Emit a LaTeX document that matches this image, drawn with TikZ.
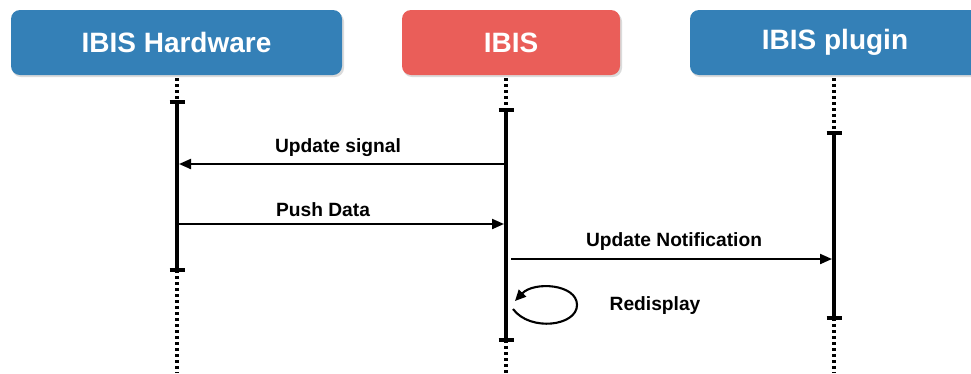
\documentclass[tikz,border=0pt]{standalone}
\usepackage{fontspec}
\setmainfont{Liberation Sans}
\usetikzlibrary{arrows.meta}
\definecolor{hwblue}{RGB}{52,128,183}
\definecolor{ibisred}{RGB}{234,94,89}
\tikzset{
  actor/.style={rounded corners=9pt, minimum height=65pt, inner sep=0pt,
    text=white, font=\fontsize{28}{30}\selectfont\bfseries},
  shade/.style={fill=black!14, rounded corners=9pt},
  life/.style={line width=3.6pt},
  idle/.style={line width=3.2pt, dash pattern=on 3pt off 3pt},
  endbar/.style={line width=3.2pt},
  msg/.style={line width=2.1pt, -{Triangle[length=12pt,width=10pt]}},
  lbl/.style={font=\fontsize{19.2}{22}\selectfont\bfseries, inner sep=0pt}
}
\begin{document}
\begin{tikzpicture}[x=1pt,y=-1pt]
\useasboundingbox (0,0) rectangle (971,373);
\begin{scope}
\clip (0,0) rectangle (971,373);
% soft shadows under the actor boxes
\fill[shade] (12,12.5) rectangle (344,77);
\fill[shade] (403,12.5) rectangle (622,77);
\fill[shade] (691,12.5) rectangle (990,77);
% actors
\node[actor, fill=hwblue, minimum width=331pt] (hw) at (176.5,42.5) {IBIS Hardware};
\node[actor, fill=ibisred, minimum width=218pt] (ibis) at (511,42.5) {IBIS};
\node[actor, fill=hwblue, minimum width=290pt] (plug) at (835,42.5) {IBIS plugin};
\end{scope}
% lifeline key points
\coordinate (hwT) at (177,102);  \coordinate (hwB) at (177,270);
\coordinate (ibT) at (506,110);  \coordinate (ibB) at (506,340);
\coordinate (plT) at (834,133);  \coordinate (plB) at (834,318);
\coordinate (hwE) at (177,373);  \coordinate (ibE) at (506,373);
\coordinate (plE) at (834,373);
% idle (dotted) parts
\draw[idle] (hw.south -| hwT) ++(0,3) -- (hwT);
\draw[idle] (hwB) -- (hwE);
\draw[idle] (ibis.south -| ibT) ++(0,3) -- (ibT);
\draw[idle] (ibB) -- (ibE);
\draw[idle] (plug.south -| plT) ++(0,3) -- (plT);
\draw[idle] (plB) -- (plE);
% activation bars
\draw[life] (hwT) -- (hwB);
\draw[life] (ibT) -- (ibB);
\draw[life] (plT) -- (plB);
\foreach \p in {hwT,hwB,ibT,ibB,plT,plB}
  \draw[endbar] ([xshift=-7.5pt]\p) -- ([xshift=7.5pt]\p);
% messages
\coordinate (m1s) at (506,164); \coordinate (m1e) at (179,164);
\coordinate (m2s) at (179,224); \coordinate (m2e) at (504,224);
\coordinate (m3s) at (511,259); \coordinate (m3e) at (832,259);
\draw[msg] (m1s) -- (m1e);
\draw[msg] (m2s) -- (m2e);
\draw[msg] (m3s) -- (m3e);
\node[lbl] (l1) at (338,148) {Update signal};
\node[lbl] (l2) at (323,210) {Push Data};
\node[lbl] (l3) at (674,242) {Update Notification};
% self call
\coordinate (r0) at (513,309);
\coordinate (r1) at (515,301);
\draw[line width=2.1pt, -{Triangle[length=11pt,width=10pt]}]
  (r0) .. controls (530,332) and (577,326) .. (577,305)
       .. controls (577,284) and (534,281) .. (r1);
\node[lbl] (l4) at (655,306) {Redisplay};
\end{tikzpicture}
\end{document}
